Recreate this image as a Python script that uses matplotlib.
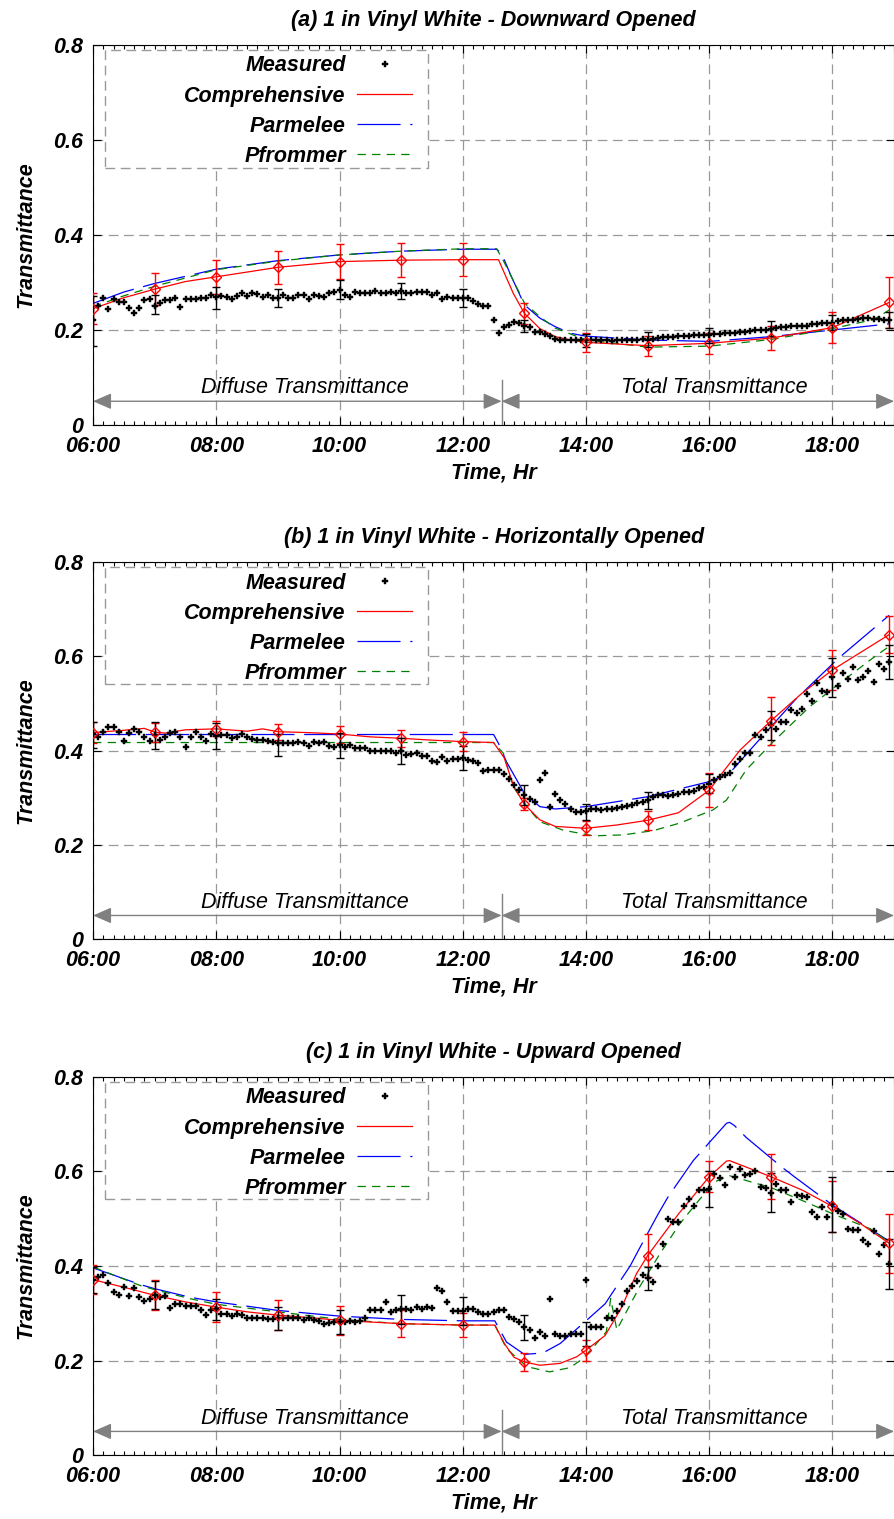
# Window blind transmittance: measured vs. three models, 1 in vinyl white slats

import numpy as np
import matplotlib.pyplot as plt
from matplotlib.patches import Rectangle
from matplotlib.ticker import MultipleLocator

plt.rcParams['font.family'] = 'Liberation Sans'
plt.rcParams['font.weight'] = 'bold'
plt.rcParams['font.style'] = 'italic'
plt.rcParams['axes.titleweight'] = 'bold'
plt.rcParams['axes.labelweight'] = 'bold'
plt.rcParams['lines.scale_dashes'] = False

# time axes (hours)
t_meas = 6 + np.arange(156) * 5 / 60          # 5-minute measurements 06:00 - 18:55
t_hour = [6, 7, 8, 9, 10, 11, 12, 13, 14, 15, 16, 17, 18, 18 + 55 / 60]
split_t = 12.63                                # diffuse / total switch

titles = ["(a) 1 in Vinyl White - Downward Opened",
          "(b) 1 in Vinyl White - Horizontally Opened",
          "(c) 1 in Vinyl White - Upward Opened"]

# ---------- (a) downward ----------
meas_a = [0.222, 0.250, 0.267, 0.245, 0.266, 0.259, 0.259, 0.247, 0.236, 0.247, 0.264, 0.266,
          0.251, 0.257, 0.264, 0.264, 0.268, 0.249, 0.266, 0.266, 0.266, 0.268, 0.268, 0.273,
          0.270, 0.272, 0.270, 0.266, 0.272, 0.277, 0.272, 0.277, 0.275, 0.270, 0.273, 0.268,
          0.268, 0.273, 0.268, 0.268, 0.273, 0.273, 0.266, 0.273, 0.272, 0.270, 0.278, 0.280,
          0.284, 0.273, 0.270, 0.280, 0.277, 0.278, 0.277, 0.282, 0.278, 0.277, 0.280, 0.277,
          0.282, 0.277, 0.277, 0.280, 0.280, 0.280, 0.273, 0.277, 0.266, 0.270, 0.268, 0.268,
          0.267, 0.267, 0.262, 0.255, 0.251, 0.251, 0.222, 0.193, 0.207, 0.210, 0.217, 0.214,
          0.209, 0.207, 0.196, 0.196, 0.192, 0.187, 0.182, 0.180, 0.179, 0.180, 0.179, 0.178,
          0.178, 0.180, 0.180, 0.179, 0.178, 0.176, 0.179, 0.180, 0.180, 0.180, 0.180, 0.182,
          0.180, 0.182, 0.184, 0.186, 0.186, 0.186, 0.187, 0.187, 0.187, 0.189, 0.189, 0.189,
          0.189, 0.191, 0.191, 0.193, 0.194, 0.194, 0.196, 0.196, 0.198, 0.200, 0.200, 0.201,
          0.203, 0.205, 0.207, 0.207, 0.208, 0.208, 0.209, 0.209, 0.212, 0.212, 0.214, 0.214,
          0.214, 0.218, 0.221, 0.222, 0.222, 0.224, 0.226, 0.226, 0.224, 0.224, 0.222, 0.221]
meas_a_bar = [0.219, 0.253, 0.268, 0.268, 0.285, 0.282, 0.267, 0.209, 0.178, 0.180, 0.189, 0.203, 0.215, 0.221]
meas_a_err = [0.052, 0.020, 0.023, 0.019, 0.020, 0.017, 0.019, 0.013, 0.014, 0.015, 0.016, 0.016, 0.016, 0.016]

comp_a_t = [6, 6.5, 7, 7.5, 8, 9, 10, 11, 12, 12.58, 12.63, 12.82, 13, 13.25, 13.5, 13.75, 14, 15, 16, 17, 18, 18.92]
comp_a_v = [0.245, 0.268, 0.286, 0.302, 0.312, 0.332, 0.344, 0.347, 0.348, 0.348, 0.333, 0.277, 0.235,
            0.203, 0.186, 0.179, 0.174, 0.167, 0.172, 0.183, 0.205, 0.258]
comp_a_hr = [0.245, 0.286, 0.312, 0.332, 0.344, 0.347, 0.348, 0.235, 0.174, 0.167, 0.172, 0.183, 0.205, 0.258]
comp_a_err = [0.032, 0.034, 0.036, 0.035, 0.037, 0.036, 0.035, 0.022, 0.020, 0.021, 0.022, 0.026, 0.032, 0.053]

parm_a_t = [6, 6.5, 7, 8, 9, 10, 11, 12, 12.55, 12.63, 12.79, 13, 13.25, 13.5, 13.75, 14, 15, 16, 17, 18, 18.92]
parm_a_v = [0.256, 0.280, 0.298, 0.328, 0.346, 0.358, 0.366, 0.370, 0.370, 0.361, 0.312, 0.253, 0.225,
            0.207, 0.193, 0.187, 0.179, 0.176, 0.186, 0.200, 0.213]

pfro_a_t = [6, 6.5, 7, 8, 9, 10, 11, 12, 12.55, 12.67, 13, 13.25, 13.5, 14, 15, 16, 17, 18, 18.67, 18.92]
pfro_a_v = [0.249, 0.272, 0.292, 0.327, 0.345, 0.358, 0.366, 0.371, 0.371, 0.343, 0.257, 0.228, 0.204,
            0.179, 0.164, 0.166, 0.180, 0.203, 0.222, 0.242]

# ---------- (b) horizontal ----------
meas_b = [0.436, 0.429, 0.440, 0.451, 0.449, 0.440, 0.421, 0.438, 0.445, 0.440, 0.429, 0.421,
          0.432, 0.422, 0.429, 0.438, 0.440, 0.428, 0.407, 0.429, 0.440, 0.429, 0.421, 0.435,
          0.431, 0.433, 0.434, 0.426, 0.429, 0.435, 0.428, 0.424, 0.422, 0.422, 0.421, 0.419,
          0.415, 0.415, 0.417, 0.415, 0.419, 0.415, 0.410, 0.419, 0.415, 0.419, 0.410, 0.408,
          0.411, 0.408, 0.412, 0.405, 0.405, 0.405, 0.400, 0.400, 0.400, 0.400, 0.398, 0.394,
          0.398, 0.391, 0.393, 0.394, 0.388, 0.388, 0.378, 0.376, 0.386, 0.378, 0.381, 0.383,
          0.384, 0.380, 0.378, 0.374, 0.357, 0.359, 0.359, 0.359, 0.350, 0.339, 0.327, 0.316,
          0.306, 0.298, 0.291, 0.337, 0.352, 0.281, 0.308, 0.296, 0.286, 0.275, 0.270, 0.270,
          0.272, 0.275, 0.277, 0.274, 0.275, 0.275, 0.279, 0.281, 0.282, 0.284, 0.288, 0.291,
          0.295, 0.302, 0.306, 0.306, 0.304, 0.306, 0.308, 0.311, 0.313, 0.315, 0.320, 0.323,
          0.330, 0.338, 0.343, 0.348, 0.352, 0.371, 0.381, 0.394, 0.395, 0.433, 0.428, 0.444,
          0.454, 0.445, 0.461, 0.461, 0.486, 0.480, 0.489, 0.521, 0.506, 0.544, 0.527, 0.525,
          0.555, 0.537, 0.564, 0.551, 0.578, 0.549, 0.555, 0.569, 0.546, 0.584, 0.572, 0.588]
meas_b_bar = [0.433, 0.432, 0.431, 0.412, 0.411, 0.399, 0.384, 0.306, 0.270, 0.295, 0.330, 0.453, 0.555, 0.588]
meas_b_err = [0.028, 0.028, 0.028, 0.024, 0.027, 0.027, 0.025, 0.021, 0.017, 0.018, 0.021, 0.030, 0.041, 0.037]

comp_b_t = [6, 6.5, 6.83, 7, 7.17, 7.5, 7.75, 8, 8.5, 8.75, 9, 9.5, 10, 10.5, 11, 11.5, 12, 12.5,
            12.67, 12.83, 13, 13.25, 13.5, 14, 14.5, 15, 15.5, 16, 16.25, 16.5, 17, 17.5, 18, 18.92]
comp_b_v = [0.438, 0.443, 0.447, 0.439, 0.437, 0.444, 0.445, 0.446, 0.441, 0.446, 0.440, 0.438,
            0.435, 0.429, 0.426, 0.422, 0.419, 0.417, 0.385, 0.323, 0.286, 0.253, 0.239, 0.235,
            0.242, 0.252, 0.268, 0.316, 0.359, 0.401, 0.463, 0.521, 0.571, 0.646]
comp_b_hr = [0.438, 0.439, 0.446, 0.440, 0.435, 0.426, 0.419, 0.286, 0.235, 0.252, 0.316, 0.463, 0.571, 0.646]
comp_b_err = [0.023, 0.020, 0.016, 0.017, 0.018, 0.018, 0.020, 0.013, 0.015, 0.020, 0.036, 0.051, 0.043, 0.039]

parm_b_t = [6, 12.5, 12.58, 12.71, 13, 13.25, 13.5, 14, 15, 16, 16.33, 16.71, 17.39, 18.09, 18.92]
parm_b_v = [0.434, 0.434, 0.415, 0.376, 0.309, 0.281, 0.276, 0.281, 0.302, 0.334, 0.352, 0.408,
            0.507, 0.595, 0.687]

pfro_b_t = [6, 12.5, 12.66, 12.82, 13.04, 13.25, 13.63, 14.12, 14.6, 15.09, 15.52, 16.06, 16.28,
            16.6, 17.04, 17.63, 18.12, 18.61, 18.93]
pfro_b_v = [0.417, 0.417, 0.394, 0.323, 0.281, 0.249, 0.231, 0.219, 0.221, 0.230, 0.246, 0.274,
            0.295, 0.359, 0.419, 0.493, 0.543, 0.592, 0.622]

# ---------- (c) upward ----------
meas_c = [0.370, 0.377, 0.380, 0.363, 0.345, 0.338, 0.356, 0.336, 0.354, 0.334, 0.326, 0.331,
          0.339, 0.334, 0.336, 0.312, 0.320, 0.319, 0.315, 0.315, 0.315, 0.306, 0.296, 0.306,
          0.308, 0.298, 0.299, 0.294, 0.299, 0.296, 0.291, 0.289, 0.289, 0.291, 0.287, 0.287,
          0.289, 0.289, 0.289, 0.289, 0.289, 0.285, 0.289, 0.285, 0.284, 0.278, 0.279, 0.282,
          0.282, 0.282, 0.284, 0.282, 0.284, 0.291, 0.306, 0.306, 0.306, 0.324, 0.303, 0.306,
          0.308, 0.308, 0.306, 0.313, 0.310, 0.313, 0.312, 0.354, 0.348, 0.324, 0.305, 0.305,
          0.305, 0.310, 0.310, 0.303, 0.299, 0.299, 0.303, 0.306, 0.306, 0.292, 0.287, 0.282,
          0.270, 0.265, 0.248, 0.260, 0.251, 0.331, 0.257, 0.251, 0.251, 0.256, 0.256, 0.256,
          0.371, 0.271, 0.271, 0.272, 0.289, 0.291, 0.305, 0.319, 0.348, 0.357, 0.369, 0.380,
          0.375, 0.366, 0.400, 0.446, 0.500, 0.493, 0.493, 0.528, 0.542, 0.528, 0.560, 0.560,
          0.563, 0.595, 0.586, 0.572, 0.610, 0.589, 0.605, 0.593, 0.595, 0.600, 0.568, 0.565,
          0.554, 0.574, 0.561, 0.561, 0.535, 0.551, 0.549, 0.547, 0.514, 0.503, 0.524, 0.503,
          0.531, 0.517, 0.509, 0.479, 0.477, 0.477, 0.454, 0.446, 0.475, 0.426, 0.444, 0.405]
meas_c_bar = [0.370, 0.339, 0.308, 0.289, 0.282, 0.308, 0.305, 0.270, 0.256, 0.374, 0.563, 0.555, 0.531, 0.405]
meas_c_err = [0.028, 0.030, 0.023, 0.025, 0.025, 0.030, 0.030, 0.026, 0.026, 0.024, 0.039, 0.041, 0.058, 0.053]

comp_c_t = [6, 6.5, 7, 7.5, 8, 8.5, 9, 9.5, 10, 11, 12, 12.52, 12.68, 12.83, 13, 13.25, 13.58,
            13.85, 14, 14.31, 14.58, 14.82, 15, 15.5, 16, 16.28, 16.33, 17, 17.52, 18, 18.44, 18.92]
comp_c_v = [0.371, 0.355, 0.338, 0.324, 0.313, 0.303, 0.296, 0.291, 0.285, 0.278, 0.275, 0.275,
            0.235, 0.207, 0.197, 0.190, 0.194, 0.208, 0.222, 0.253, 0.313, 0.384, 0.422, 0.510,
            0.589, 0.622, 0.623, 0.589, 0.560, 0.526, 0.491, 0.448]
comp_c_hr = [0.371, 0.338, 0.313, 0.296, 0.285, 0.278, 0.275, 0.197, 0.222, 0.422, 0.589, 0.589, 0.526, 0.448]
comp_c_err = [0.031, 0.032, 0.032, 0.032, 0.030, 0.029, 0.026, 0.019, 0.022, 0.045, 0.033, 0.048, 0.054, 0.062]

parm_c_t = [6, 6.76, 7, 7.57, 8, 9, 10, 11, 12, 12.52, 12.71, 13, 13.3, 13.58, 14, 14.31, 14.72,
            14.85, 15.17, 15.33, 15.74, 15.91, 16.28, 16.33, 16.41, 16.6, 17.17, 17.39, 18.01, 18.88]
parm_c_v = [0.396, 0.361, 0.352, 0.334, 0.324, 0.306, 0.294, 0.287, 0.284, 0.284, 0.239, 0.213,
            0.216, 0.236, 0.284, 0.320, 0.401, 0.433, 0.510, 0.546, 0.623, 0.648, 0.702, 0.704,
            0.697, 0.672, 0.610, 0.588, 0.528, 0.456]

pfro_c_t = [6, 6.76, 7, 7.57, 8, 9, 10, 11, 12, 12.52, 12.71, 13.04, 13.41, 13.74, 13.95, 14.17,
            14.33, 14.4, 14.5, 14.87, 15.2, 15.52, 15.85, 16.12, 16.33, 17, 17.52, 18.01, 18.61, 18.88]
pfro_c_v = [0.398, 0.359, 0.350, 0.331, 0.319, 0.303, 0.287, 0.278, 0.275, 0.275, 0.225, 0.187,
            0.176, 0.185, 0.204, 0.236, 0.261, 0.331, 0.265, 0.356, 0.426, 0.489, 0.542, 0.580,
            0.591, 0.566, 0.538, 0.510, 0.479, 0.454]

panels = [
    (meas_a, meas_a_bar, meas_a_err, comp_a_t, comp_a_v, comp_a_hr, comp_a_err, parm_a_t, parm_a_v, pfro_a_t, pfro_a_v),
    (meas_b, meas_b_bar, meas_b_err, comp_b_t, comp_b_v, comp_b_hr, comp_b_err, parm_b_t, parm_b_v, pfro_b_t, pfro_b_v),
    (meas_c, meas_c_bar, meas_c_err, comp_c_t, comp_c_v, comp_c_hr, comp_c_err, parm_c_t, parm_c_v, pfro_c_t, pfro_c_v),
]

fig = plt.figure(figsize=(8.95, 15.19), dpi=100)
bottoms = [0.7202, 0.3818, 0.0421]
heights = [0.2502, 0.2482, 0.2489]
FS = 15.5

for k, p in enumerate(panels):
    meas, mbar, merr, ct, cv, chr_, cerr, pt, pv, ft, fv = p
    ax = fig.add_axes([0.104, bottoms[k], 0.895, heights[k]])

    ax.plot(pt, pv, color='blue', lw=0.9, dashes=(31, 7), label='Parmelee', zorder=3)
    ax.plot(ft, fv, color='#008000', lw=0.9, dashes=(6, 4.5), label='Pfrommer', zorder=3)
    ax.plot(ct, cv, color='red', lw=0.9, label='Comprehensive', zorder=3)
    ax.errorbar(t_hour, chr_, yerr=cerr, fmt='D', ms=5.5, mfc='none', mec='red', mew=1,
                ecolor='red', elinewidth=1, capsize=3, zorder=4)
    ax.plot(t_meas, meas, ls='none', marker='P', ms=4.6, color='black', mew=0.3,
            label='Measured', zorder=4)
    ax.errorbar(t_hour, mbar, yerr=merr, fmt='none', ecolor='black', elinewidth=1,
                capsize=3, zorder=4)

    ax.set_xlim(6, 19)
    ax.set_ylim(0, 0.8)
    ax.set_xticks([6, 8, 10, 12, 14, 16, 18])
    ax.set_xticklabels(['06:00', '08:00', '10:00', '12:00', '14:00', '16:00', '18:00'])
    ax.xaxis.set_minor_locator(MultipleLocator(1 / 6))
    ax.set_yticks([0, 0.2, 0.4, 0.6, 0.8])
    ax.set_yticklabels(['0', '0.2', '0.4', '0.6', '0.8'])
    ax.tick_params(which='both', direction='in', top=True, right=True, labelsize=FS)
    ax.tick_params(which='major', length=6, width=0.8, pad=7)
    ax.tick_params(axis='x', which='major', pad=8)
    ax.tick_params(which='minor', length=3, width=0.8)
    ax.grid(True, which='major', color='#999999', lw=0.9, dashes=(7, 4))
    ax.set_axisbelow(True)

    ax.set_title(titles[k], fontsize=FS, pad=14)
    ax.set_xlabel('Time, Hr', fontsize=FS, labelpad=4)
    ax.set_ylabel('Transmittance', fontsize=FS, labelpad=12)

    # diffuse / total transmittance arrows
    arrow = dict(arrowstyle='<|-|>,head_length=0.8,head_width=0.35', color='#808080',
                 lw=1, shrinkA=0, shrinkB=0, mutation_scale=14)
    ax.annotate('', xy=(6, 0.05), xytext=(split_t, 0.05), arrowprops=arrow)
    ax.annotate('', xy=(19, 0.05), xytext=(split_t, 0.05), arrowprops=arrow)
    ax.plot([split_t, split_t], [0, 0.095], color='#808080', lw=1)
    ax.text(9.43, 0.078, 'Diffuse Transmittance', fontsize=FS, fontweight='normal',
            ha='center', va='center')
    ax.text(16.08, 0.078, 'Total Transmittance', fontsize=FS, fontweight='normal',
            ha='center', va='center')

    # legend with its own dashed box
    ax.add_patch(Rectangle((0.015, 0.676), 0.403, 0.311, transform=ax.transAxes,
                           facecolor='white', edgecolor='#999999', lw=1, ls=(0, (7, 4)), zorder=5))
    h, l = ax.get_legend_handles_labels()
    order = [l.index(n) for n in ['Measured', 'Comprehensive', 'Parmelee', 'Pfrommer']]
    leg = ax.legend([h[i] for i in order], [l[i] for i in order], loc='upper right',
                    bbox_to_anchor=(0.4095, 0.995), frameon=False, markerfirst=False,
                    fontsize=FS, handlelength=2.6, handletextpad=0.5, labelspacing=0.42,
                    borderaxespad=0, numpoints=1)
    leg.set_zorder(6)

fig.savefig('out.png', dpi=100)
